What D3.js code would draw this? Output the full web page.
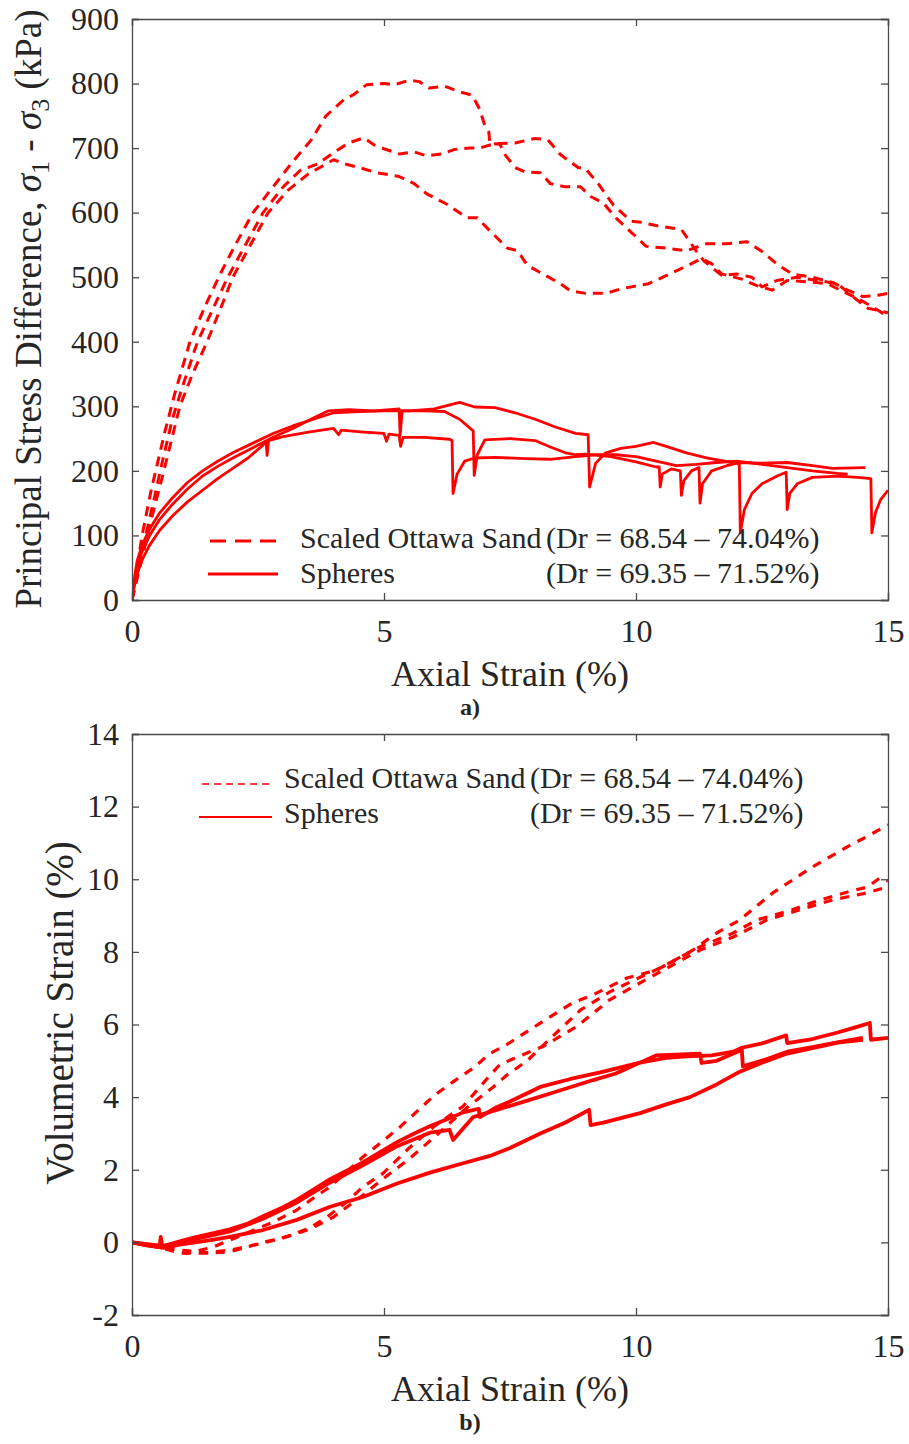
<!DOCTYPE html>
<html>
<head>
<meta charset="utf-8">
<script src="https://cdn.jsdelivr.net/npm/d3@7"></script>
<style>
  html, body { margin: 0; padding: 0; background: #fff; }
  svg { display: block; }
  text { font-family: "Liberation Serif", "Times New Roman", serif; fill: #262626; }
</style>
</head>
<body>
<svg id="chart" width="909" height="1444"></svg>
<script>
// ---------- Tick values ----------
const xTicks = [0, 5, 10, 15];
const yTicksA = [0, 100, 200, 300, 400, 500, 600, 700, 800, 900];
const yTicksB = [-2, 0, 2, 4, 6, 8, 10, 12, 14];

// ---------- Legend text ----------
const legendNames = ["Scaled Ottawa Sand", "Spheres"];
const legendDr = ["(Dr = 68.54 \u2013 74.04%)", "(Dr = 69.35 \u2013 71.52%)"];

// ---------- Panel a: principal stress difference (kPa) vs axial strain (%) ----------
const ottawaA1 = [[0,0],[0.1,50],[0.2,100],[0.38,170],[0.5,210],[0.65,260],[0.85,320],[1.15,400],[1.45,455],[1.75,505],[2.05,550],[2.4,600],[2.8,640],[3.2,680],[3.55,712],[3.85,750],[4.2,775],[4.4,783],[4.65,798],[5.0,800],[5.2,798],[5.5,805],[5.7,803],[5.9,793],[6.2,796],[6.5,787],[6.75,782],[6.9,760],[7.0,735],[7.08,725],[7.1,707],[7.3,706],[7.4,690],[7.6,670],[7.8,663],[8.1,662],[8.3,645],[8.6,640],[8.9,640],[9.1,625],[9.35,615],[9.6,592],[9.9,570],[10.2,548],[10.6,545],[11.0,541],[11.4,552],[11.8,552],[12.2,555],[12.5,540],[12.8,520],[13.1,505],[13.5,500],[13.9,492],[14.2,480],[14.5,470],[14.8,472],[15,475]];
const ottawaA2 = [[0,0],[0.15,55],[0.3,110],[0.45,160],[0.56,200],[0.8,280],[1.0,330],[1.3,400],[1.6,450],[1.9,500],[2.25,550],[2.6,600],[3.0,640],[3.33,665],[3.7,676],[4.0,693],[4.3,708],[4.6,716],[4.8,705],[5.0,699],[5.3,691],[5.6,694],[5.85,688],[6.15,691],[6.4,698],[6.7,700],[6.9,700],[7.2,707],[7.6,708],[8.0,715],[8.25,713],[8.5,690],[8.85,670],[9.0,668],[9.25,645],[9.55,612],[9.9,587],[10.1,585],[10.4,580],[10.9,574],[11.2,540],[11.35,525],[11.7,503],[12.0,505],[12.3,500],[12.5,485],[12.8,495],[13.2,500],[13.6,495],[14.0,490],[14.3,470],[14.6,452],[15,445]];
const ottawaA3 = [[0,0],[0.2,65],[0.4,130],[0.6,190],[0.95,300],[1.2,350],[1.49,400],[1.75,450],[2.0,500],[2.35,550],[2.7,600],[3.1,635],[3.5,660],[4.0,682],[4.2,676],[4.5,670],[4.85,662],[5.3,656],[5.6,645],[5.85,629],[6.25,613],[6.65,592],[6.85,592],[7.1,572],[7.45,545],[7.65,541],[7.85,518],[8.2,503],[8.5,490],[8.7,479],[9.0,475],[9.4,475],[9.7,482],[10.25,490],[10.7,506],[11.1,521],[11.3,529],[11.5,521],[11.7,505],[12.1,497],[12.4,487],[12.7,480],[13.0,495],[13.4,493],[13.8,490],[14.1,478],[14.4,467],[14.65,456],[14.9,444],[15,442]];

const spheresA1 = [[0,0],[0.03,25],[0.1,60],[0.2,85],[0.35,110],[0.55,135],[0.8,158],[1.1,182],[1.4,200],[1.7,215],[2.0,228],[2.4,243],[2.8,258],[3.2,270],[3.6,280],[4.0,290],[4.5,292],[5.0,293],[5.5,293],[6.0,296],[6.5,306],[6.8,299],[7.2,298],[7.6,290],[8.0,280],[8.4,268],[8.8,258],[9.05,256],[9.08,175],[9.2,212],[9.4,228],[9.7,235],[10.0,238],[10.35,244],[10.6,238],[11.0,228],[11.4,220],[11.9,213],[12.5,212],[13.0,213],[13.5,208],[13.9,204],[14.55,205]];
const spheresA2 = [[0,0],[0.03,20],[0.1,50],[0.2,75],[0.35,100],[0.55,125],[0.8,148],[1.1,172],[1.4,192],[1.7,207],[2.0,220],[2.4,236],[2.8,252],[3.2,266],[3.6,282],[3.9,293],[4.3,295],[4.8,293],[5.3,296],[5.32,255],[5.36,293],[5.8,293],[6.2,292],[6.5,280],[6.77,262],[6.79,193],[6.85,225],[7.0,248],[7.5,250],[8.0,247],[8.3,237],[8.6,228],[8.8,225],[9.0,226],[9.5,222],[10.0,214],[10.4,206],[10.46,206],[10.48,175],[10.52,195],[10.7,203],[10.88,200],[10.9,162],[10.95,185],[11.1,200],[11.25,205],[11.27,150],[11.32,180],[11.5,200],[11.8,208],[12.0,212],[12.05,210],[12.07,104],[12.15,140],[12.3,165],[12.5,180],[12.8,192],[12.98,198],[13.0,140],[13.05,165],[13.2,180],[13.5,190],[14.0,192],[14.4,190],[14.66,188],[14.68,104],[14.75,135],[14.85,155],[15.0,170]];
const spheresA3 = [[0,0],[0.03,15],[0.1,40],[0.2,62],[0.35,85],[0.55,108],[0.8,130],[1.1,152],[1.4,170],[1.7,188],[2.0,204],[2.3,220],[2.6,240],[2.66,246],[2.68,224],[2.71,247],[3.0,253],[3.5,260],[4.0,266],[4.1,256],[4.15,263],[4.6,260],[5.0,258],[5.05,246],[5.1,257],[5.3,255],[5.33,238],[5.38,252],[5.8,252],[6.3,249],[6.35,247],[6.37,165],[6.45,195],[6.6,215],[6.8,220],[7.2,221],[7.8,219],[8.3,218],[8.8,222],[9.2,225],[9.6,225],[10.0,222],[10.4,215],[10.8,208],[11.2,210],[11.6,213],[12.0,215],[12.5,210],[13.0,205],[13.5,200],[14.0,196],[14.2,195]];

// ---------- Panel b: volumetric strain (%) vs axial strain (%) ----------
const ottawaB1 = [[0,0],[0.62,-0.16],[1.09,-0.3],[1.61,-0.13],[2.28,0.26],[2.8,0.56],[3.27,0.89],[3.6,1.22],[3.93,1.53],[4.26,1.94],[4.58,2.35],[4.96,2.77],[5.32,3.18],[5.65,3.6],[6.01,4.06],[6.37,4.42],[6.77,4.8],[7.1,5.2],[7.44,5.45],[8.1,6.04],[8.75,6.6],[9.15,6.82],[9.82,7.28],[10.41,7.5],[11.13,8.05],[11.6,8.52],[12.06,8.88],[12.72,9.63],[13.5,10.34],[14.2,10.9],[14.64,11.22],[15,11.5]];
const ottawaB2 = [[0,0],[0.5,-0.12],[0.95,-0.3],[1.49,-0.3],[1.94,-0.26],[2.28,-0.13],[2.6,0.0],[3.07,0.16],[3.53,0.4],[3.87,0.7],[4.26,1.11],[4.58,1.53],[4.98,1.9],[5.5,2.6],[6.0,3.2],[6.57,3.75],[7.04,4.5],[7.3,4.9],[7.64,5.1],[8.16,5.4],[8.83,5.95],[9.48,6.68],[10.28,7.3],[11.27,8.05],[11.93,8.41],[12.6,8.88],[13.25,9.16],[13.9,9.43],[14.6,9.63],[15,9.79]];
const ottawaB3 = [[0,0],[0.5,-0.1],[1.0,-0.22],[1.5,-0.28],[2.0,-0.2],[2.5,-0.05],[3.0,0.12],[3.5,0.35],[4.0,0.7],[4.58,1.3],[4.98,1.75],[5.5,2.3],[6.0,2.9],[6.57,3.62],[6.84,3.92],[7.17,4.28],[7.44,4.61],[7.84,5.0],[8.29,5.6],[8.9,6.4],[9.48,6.9],[10.08,7.3],[10.48,7.56],[11.27,8.14],[11.93,8.52],[12.4,8.88],[13.1,9.16],[13.65,9.43],[14.2,9.65],[14.6,9.79],[14.84,10.04],[15,9.95]];

const spheresB1 = [[0,0],[0.3,-0.05],[0.62,-0.1],[1.0,0.05],[1.29,0.15],[1.6,0.25],[1.94,0.36],[2.3,0.52],[2.6,0.72],[3.0,0.97],[3.27,1.17],[3.6,1.45],[3.93,1.74],[4.3,2.0],[4.58,2.2],[5.0,2.55],[5.26,2.76],[5.6,3.0],[5.91,3.2],[6.3,3.42],[6.57,3.58],[6.88,3.68],[6.9,3.45],[7.2,3.7],[7.5,3.88],[8.1,4.28],[8.7,4.5],[9.29,4.68],[10.08,4.95],[10.6,5.08],[11.0,5.12],[11.5,5.15],[11.93,5.25],[12.1,5.36],[12.5,5.48],[12.98,5.7],[13.0,5.49],[13.5,5.6],[14.0,5.78],[14.3,5.9],[14.64,6.04],[14.66,5.58],[15,5.63]];
const spheresB2 = [[0,0],[0.3,-0.08],[0.55,-0.12],[0.57,0.15],[0.6,-0.1],[1.0,0.0],[1.29,0.1],[1.94,0.3],[2.6,0.65],[3.27,1.1],[3.93,1.65],[4.58,2.12],[5.26,2.65],[5.91,3.02],[6.3,3.1],[6.37,2.82],[6.77,3.45],[7.76,3.87],[8.3,4.1],[9.15,4.47],[9.6,4.65],[10.08,4.95],[10.41,5.15],[11.27,5.2],[11.3,4.94],[11.6,5.0],[11.93,5.2],[12.1,5.3],[12.12,4.85],[12.6,5.05],[13.0,5.25],[13.5,5.38],[14.05,5.52],[14.5,5.63]];
const spheresB3 = [[0,0],[0.3,-0.08],[0.62,-0.15],[1.0,-0.05],[1.5,0.05],[1.94,0.15],[2.6,0.34],[3.27,0.62],[3.93,0.98],[4.58,1.25],[5.26,1.62],[5.91,1.92],[6.57,2.18],[7.1,2.38],[7.5,2.6],[8.1,3.0],[8.6,3.3],[9.07,3.65],[9.1,3.23],[9.35,3.3],[10.08,3.56],[10.6,3.8],[11.07,4.0],[11.6,4.35],[12.06,4.7],[12.5,4.95],[13.0,5.2],[13.5,5.35],[14.0,5.5],[14.5,5.58]];

// ---------- Drawing ----------
const svg = d3.select("#chart");
const RED = "#ff0000";
const AXIS = "#4a4a4a";
const plotLeft = 132, plotRight = 888;

function drawPanel(cfg) {
  const x = d3.scaleLinear().domain([0, 15]).range([plotLeft, plotRight]);
  const y = d3.scaleLinear().domain(cfg.yDomain).range([cfg.bottom, cfg.top]);
  const g = svg.append("g");

  const clipId = "clip" + cfg.id;
  svg.append("clipPath").attr("id", clipId).append("rect")
    .attr("x", plotLeft).attr("y", cfg.top).attr("width", plotRight - plotLeft).attr("height", cfg.bottom - cfg.top);

  const line = d3.line().x(d => x(d[0])).y(d => y(d[1]));
  const lines = g.append("g").attr("clip-path", `url(#${clipId})`);
  cfg.dashed.forEach(s => {
    lines.append("path").datum(s).attr("d", line)
      .attr("fill", "none").attr("stroke", RED).attr("stroke-width", cfg.dashWidth)
      .attr("stroke-dasharray", cfg.dashArray).attr("stroke-linejoin", "round");
  });
  cfg.solid.forEach(s => {
    lines.append("path").datum(s).attr("d", line)
      .attr("fill", "none").attr("stroke", RED).attr("stroke-width", cfg.solidWidth)
      .attr("stroke-linejoin", "round");
  });

  const tickLen = 7;
  const axB = d3.axisBottom(x).tickValues(xTicks).tickSize(-tickLen).tickPadding(tickLen + 12).tickFormat(d3.format("d"));
  const axT = d3.axisTop(x).tickValues(xTicks).tickSize(-tickLen).tickFormat("");
  const axL = d3.axisLeft(y).tickValues(cfg.yTicks).tickSize(-tickLen).tickPadding(tickLen + 6).tickFormat(d => d < 0 ? "-" + Math.abs(d) : String(d));
  const axR = d3.axisRight(y).tickValues(cfg.yTicks).tickSize(-tickLen).tickFormat("");

  const gB = g.append("g").attr("transform", `translate(0,${cfg.bottom})`).call(axB);
  const gT = g.append("g").attr("transform", `translate(0,${cfg.top})`).call(axT);
  const gL = g.append("g").attr("transform", `translate(${plotLeft},0)`).call(axL);
  const gR = g.append("g").attr("transform", `translate(${plotRight},0)`).call(axR);
  [gB, gT, gL, gR].forEach(a => {
    a.select(".domain").attr("stroke", AXIS).attr("stroke-width", 1.3);
    a.selectAll(".tick line").attr("stroke", AXIS).attr("stroke-width", 1.3);
    a.selectAll(".tick text").attr("fill", "#262626")
      .style("font-family", '"Liberation Serif", "Times New Roman", serif').style("font-size", "32px");
  });
  gB.selectAll(".tick text").attr("dy", "0.71em");

  g.append("text").attr("x", 510).attr("y", cfg.xLabelY).attr("text-anchor", "middle")
    .style("font-size", "36px").text("Axial Strain (%)");
  g.append("text").attr("x", 470).attr("y", cfg.panelLabelY).attr("text-anchor", "middle")
    .style("font-size", "24px").style("font-weight", "bold").text(cfg.panelLabel);

  const yl = g.append("text").attr("text-anchor", "middle")
    .attr("transform", `translate(${cfg.yLabelX},${cfg.yLabelY}) rotate(-90)`)
    .style("font-size", cfg.yLabelSize);
  cfg.yLabel(yl);

  const L = cfg.legend;
  g.append("line").attr("x1", L.x1).attr("x2", L.x2).attr("y1", L.y1).attr("y2", L.y1)
    .attr("stroke", RED).attr("stroke-width", L.dashW).attr("stroke-dasharray", L.dash);
  g.append("line").attr("x1", L.x1s).attr("x2", L.x2).attr("y1", L.y2).attr("y2", L.y2)
    .attr("stroke", RED).attr("stroke-width", L.solidW);
  legendNames.forEach((n, i) => {
    g.append("text").attr("x", L.tx).attr("y", L.ty[i]).style("font-size", "30px").text(n);
    g.append("text").attr("x", L.dx).attr("y", L.ty[i]).style("font-size", "30px").text(legendDr[i]);
  });
}

drawPanel({
  id: "A", top: 19, bottom: 600, yDomain: [0, 900], yTicks: yTicksA,
  dashed: [ottawaA1, ottawaA2, ottawaA3], solid: [spheresA1, spheresA2, spheresA3],
  dashWidth: 3, dashArray: "10,7", solidWidth: 2.8,
  xLabelY: 686, panelLabel: "a)", panelLabelY: 715,
  yLabelX: 41, yLabelY: 309, yLabelSize: "37px",
  yLabel: t => {
    t.append("tspan").text("Principal Stress Difference, ");
    t.append("tspan").style("font-style", "italic").text("\u03C3");
    t.append("tspan").attr("dy", 8).style("font-size", "26px").text("1");
    t.append("tspan").attr("dy", -8).text(" - ");
    t.append("tspan").style("font-style", "italic").text("\u03C3");
    t.append("tspan").attr("dy", 8).style("font-size", "26px").text("3");
    t.append("tspan").attr("dy", -8).text(" (kPa)");
  },
  legend: { x1: 210, x1s: 208, x2: 278, y1: 541, y2: 574, dash: "16,9", dashW: 3, solidW: 3,
            tx: 300, dx: 546, ty: [548, 583] }
});

drawPanel({
  id: "B", top: 734, bottom: 1315, yDomain: [-2, 14], yTicks: yTicksB,
  dashed: [ottawaB1, ottawaB2, ottawaB3], solid: [spheresB1, spheresB2, spheresB3],
  dashWidth: 3.2, dashArray: "9,8", solidWidth: 3.8,
  xLabelY: 1401, panelLabel: "b)", panelLabelY: 1430,
  yLabelX: 73, yLabelY: 1013, yLabelSize: "39px",
  yLabel: t => { t.text("Volumetric Strain (%)"); },
  legend: { x1: 202, x1s: 199, x2: 272, y1: 784, y2: 817, dash: "7,5", dashW: 1.6, solidW: 2,
            tx: 284, dx: 530, ty: [788, 823] }
});
</script>
</body>
</html>
